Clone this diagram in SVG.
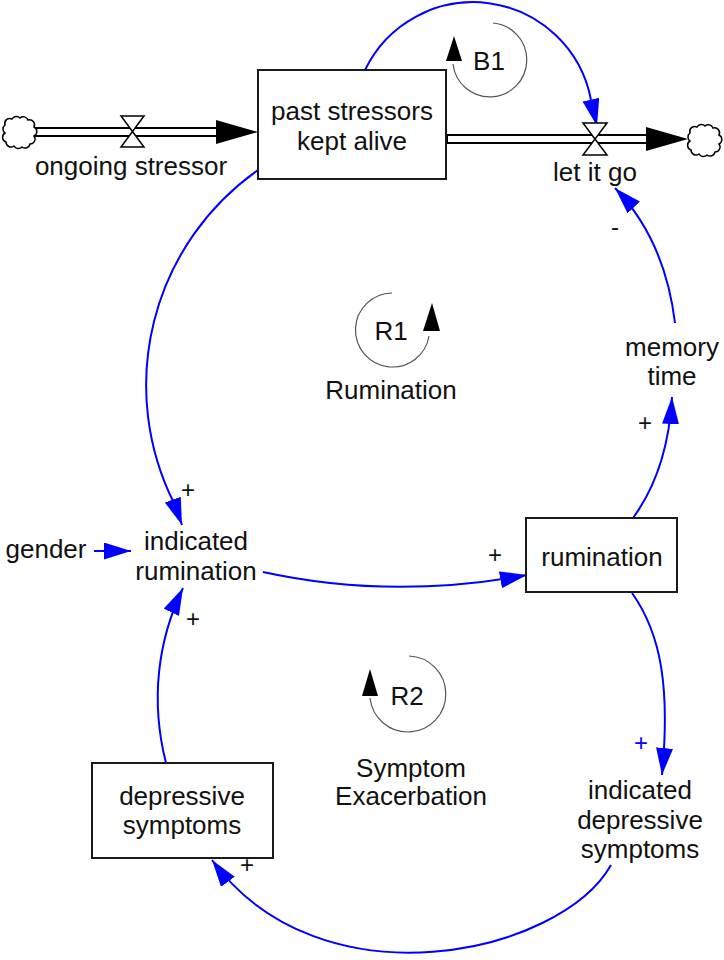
<svg xmlns="http://www.w3.org/2000/svg" width="724" height="960" viewBox="0 0 724 960">
<style>
text{font-family:"Liberation Sans",Arial,sans-serif;font-size:26px;fill:#111;text-anchor:middle}
.sign{font-size:24px}
.stock{fill:#fff;stroke:#1a1a1a;stroke-width:2}
.link{fill:none;stroke:#0000ff;stroke-width:2;marker-end:url(#ah)}
.loop{fill:none;stroke:#555;stroke-width:1.2}
.pipeo{stroke:#000;stroke-width:10}
.pipei{stroke:#fff;stroke-width:6}
.valve{fill:#fff;stroke:#000;stroke-width:1.5;stroke-linejoin:miter}
.cloud{fill:#fff;stroke:#000;stroke-width:1.5}
</style>
<defs>
<marker id="ah" markerUnits="userSpaceOnUse" markerWidth="27" markerHeight="17" viewBox="0 0 27 17" refX="27" refY="8.5" orient="auto">
<path d="M0,0 L27,8.5 L0,17 z" fill="#0000ff"/>
</marker>
<path id="cl" d="M4,9 a5,5 0 0 1 7,-6 a5,5 0 0 1 8,-1 a5,5 0 0 1 8,2 a5,5 0 0 1 6,7 a5,5 0 0 1 0,9 a5,5 0 0 1 -4,8 a5,5 0 0 1 -8,3 a5,5 0 0 1 -8,-1 a5,5 0 0 1 -8,-4 a5,5 0 0 1 -1,-9 a5,5 0 0 1 0,-8 z"/>
</defs>
<g id="connectors">
<path class="link" d="M365,70 A120,120 0 0 1 591,100 L597,126"/>
<path class="link" d="M258,170 A263,263 0 0 0 174,503 L182,525"/>
<path class="link" d="M94,551 L131,551"/>
<path class="link" d="M263,572 Q390,600 527,575"/>
<path class="link" d="M633,518 Q668,470 672,397"/>
<path class="link" d="M675,323 Q665,240 615,188"/>
<path class="link" d="M632,593 C662,635 670,690 662,775"/>
<path class="link" d="M611,865 C560,955 320,1008 212,860"/>
<path class="link" d="M166,763 C150,700 158,640 183,588"/>
</g>
<g id="flow-ongoing-stressor">
<line class="pipeo" x1="34" y1="132" x2="220" y2="132"/>
<line class="pipei" x1="34" y1="132" x2="222" y2="132"/>
<polygon points="216,120 258,132 216,144" fill="#000"/>
<path class="valve" d="M121,116 H144 L121,147 H144 Z"/>
<text x="131" y="175">ongoing stressor</text>
</g>
<g id="cloud-source"><use href="#cl" class="cloud" transform="translate(1,116)"/></g>
<g id="flow-let-it-go">
<line class="pipeo" x1="446" y1="139" x2="650" y2="139"/>
<line class="pipei" x1="448" y1="139" x2="652" y2="139"/>
<polygon points="646,127 688,139 646,151" fill="#000"/>
<path class="valve" d="M583,123 H607 L583,155 H607 Z"/>
<text x="595" y="181">let it go</text>
</g>
<g id="cloud-sink"><use href="#cl" class="cloud" transform="translate(686,124)"/></g>
<g id="past-stressors-kept-alive">
<rect class="stock" x="258" y="70" width="188" height="109"/>
<text x="352" y="120">past stressors</text>
<text x="352" y="150">kept alive</text>
</g>
<g id="loop-B1">
<path class="loop" d="M493,23 A37,37 0 1 1 453,64"/>
<polygon points="454,36 446,61 462,61" fill="#000"/>
<text x="489" y="70">B1</text>
</g>
<g id="loop-R1">
<path class="loop" d="M392,293 A37,37 0 1 0 429,336"/>
<polygon points="432,303 423,331 440,331" fill="#000"/>
<text x="391" y="340">R1</text>
<text x="391" y="399">Rumination</text>
</g>
<g id="loop-R2">
<path class="loop" d="M409,656 A38,38 0 1 1 370,698"/>
<polygon points="370,669 362,696 378,696" fill="#000"/>
<text x="407" y="705">R2</text>
<text x="411" y="777">Symptom</text>
<text x="411" y="805">Exacerbation</text>
</g>
<g id="memory-time">
<text x="672" y="356">memory</text>
<text x="672" y="385">time</text>
</g>
<g id="gender"><text x="46" y="558">gender</text></g>
<g id="indicated-rumination">
<text x="196" y="550">indicated</text>
<text x="196" y="580">rumination</text>
</g>
<g id="rumination">
<rect class="stock" x="526" y="518" width="151" height="74"/>
<text x="602" y="566">rumination</text>
</g>
<g id="indicated-depressive-symptoms">
<text x="640" y="799">indicated</text>
<text x="640" y="829">depressive</text>
<text x="640" y="858">symptoms</text>
</g>
<g id="depressive-symptoms">
<rect class="stock" x="92" y="763" width="181" height="95"/>
<text x="182" y="805">depressive</text>
<text x="182" y="834">symptoms</text>
</g>
<g id="polarities">
<text class="sign" x="188" y="498">+</text>
<text class="sign" x="193" y="627">+</text>
<text class="sign" x="495" y="563">+</text>
<text class="sign" x="645" y="431">+</text>
<text class="sign" x="641" y="751" style="fill:#0000ff">+</text>
<text class="sign" x="247" y="873">+</text>
<text class="sign" x="615" y="235">-</text>
</g>
</svg>
